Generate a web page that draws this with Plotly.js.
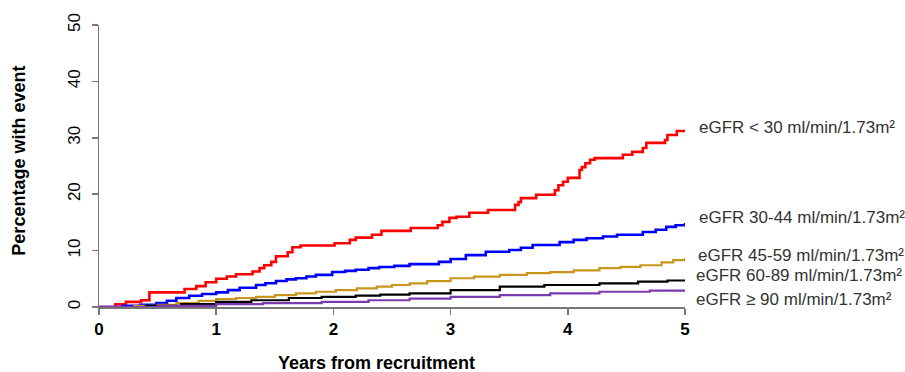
<!DOCTYPE html>
<html>
<head>
<meta charset="utf-8">
<script src="https://cdn.plot.ly/plotly-3.0.1.min.js"></script>
<style>html,body{margin:0;padding:0;background:#fff;}#chart{width:905px;height:372px;}</style>
</head>
<body>
<div id="chart"></div>
<script>
// Years from recruitment / percentage with event (step curves)
var redT = [0, 0.14, 0.23, 0.36, 0.43, 0.73, 0.83, 0.91, 1.0, 1.09, 1.17, 1.31, 1.37, 1.41, 1.47, 1.51, 1.61, 1.65, 1.72, 2.01, 2.14, 2.19, 2.33, 2.41, 2.66, 2.89, 2.93, 2.99, 3.05, 3.16, 3.32, 3.55, 3.58, 3.6, 3.73, 3.89, 3.92, 3.96, 4.0, 4.1, 4.12, 4.15, 4.19, 4.23, 4.47, 4.55, 4.64, 4.67, 4.83, 4.85, 4.93, 5.0];
var redV = [0, 0.5, 0.9, 1.2, 2.6, 3.2, 3.7, 4.4, 5.0, 5.4, 5.8, 6.3, 6.9, 7.4, 8.0, 9.0, 9.7, 10.6, 10.9, 11.3, 11.9, 12.3, 12.8, 13.5, 14.0, 14.5, 15.1, 15.8, 16.0, 16.7, 17.2, 18.1, 18.6, 19.3, 19.9, 20.7, 21.6, 22.2, 22.9, 24.3, 24.8, 25.5, 26.1, 26.4, 27.0, 27.5, 28.2, 29.1, 29.6, 30.5, 31.2, 31.4];

var blueT = [0, 0.2, 0.35, 0.49, 0.58, 0.66, 0.77, 0.88, 1.0, 1.1, 1.2, 1.34, 1.42, 1.51, 1.6, 1.68, 1.77, 1.85, 1.99, 2.1, 2.19, 2.3, 2.39, 2.52, 2.65, 2.9, 3.0, 3.13, 3.3, 3.5, 3.6, 3.7, 3.93, 4.05, 4.16, 4.3, 4.42, 4.64, 4.75, 4.84, 4.92, 5.0];
var blueV = [0, 0.2, 0.4, 0.7, 1.1, 1.6, 2.0, 2.3, 2.6, 3.0, 3.4, 3.9, 4.2, 4.6, 4.9, 5.1, 5.4, 5.7, 6.2, 6.4, 6.6, 6.9, 7.1, 7.3, 7.6, 8.0, 8.5, 9.2, 9.8, 10.1, 10.5, 11.0, 11.5, 11.9, 12.2, 12.5, 12.8, 13.3, 13.7, 14.2, 14.5, 14.9];

var goldT = [0, 0.3, 0.5, 0.66, 0.85, 1.0, 1.17, 1.34, 1.5, 1.68, 1.85, 2.02, 2.2, 2.37, 2.5, 2.65, 2.8, 3.0, 3.2, 3.42, 3.65, 3.85, 4.05, 4.27, 4.45, 4.62, 4.8, 4.9, 5.0];
var goldV = [0, 0.2, 0.4, 0.7, 1.1, 1.4, 1.6, 1.8, 2.1, 2.4, 2.7, 3.0, 3.3, 3.6, 3.9, 4.2, 4.6, 5.1, 5.4, 5.7, 6.0, 6.2, 6.5, 6.9, 7.1, 7.4, 7.9, 8.3, 8.7];

var blackT = [0, 0.4, 0.7, 1.0, 1.3, 1.62, 1.9, 2.19, 2.4, 2.65, 3.0, 3.42, 3.8, 4.27, 4.6, 4.85, 5.0];
var blackV = [0, 0.2, 0.5, 0.9, 1.2, 1.6, 1.8, 2.0, 2.2, 2.4, 3.0, 3.6, 3.9, 4.2, 4.5, 4.7, 4.8];

var purpleT = [0, 0.5, 1.0, 1.4, 1.9, 2.3, 2.65, 3.0, 3.42, 3.85, 4.27, 4.7, 5.0];
var purpleV = [0, 0.2, 0.5, 0.7, 0.9, 1.2, 1.5, 1.8, 2.1, 2.4, 2.7, 2.9, 3.0];

var groupLabels = [
  "eGFR < 30 ml/min/1.73m²",
  "eGFR 30-44 ml/min/1.73m²",
  "eGFR 45-59 ml/min/1.73m²",
  "eGFR 60-89 ml/min/1.73m²",
  "eGFR ≥ 90 ml/min/1.73m²"
];
var xTicks = [0, 1, 2, 3, 4, 5];
var yTicks = [0, 10, 20, 30, 40, 50];

var colors = ["#ff0000", "#0000ff", "#c8961c", "#000000", "#7b3aae"];
var widths = [2.6, 2.6, 2.2, 2.2, 2.2];
var series = [[redT, redV], [blueT, blueV], [goldT, goldV], [blackT, blackV], [purpleT, purpleV]];

var traces = series.map(function (s, i) {
  return {
    x: s[0], y: s[1], type: "scatter", mode: "lines", name: groupLabels[i],
    line: {color: colors[i], width: widths[i], shape: "hv"},
    hoverinfo: "skip"
  };
});

var labelY = [0.635, 0.319, 0.184, 0.113, 0.025];
var labelX = [1.021, 1.021, 1.018, 1.016, 1.016];
var annotations = groupLabels.map(function (t, i) {
  return {
    text: t, xref: "paper", yref: "paper", x: labelX[i], y: labelY[i],
    xanchor: "left", yanchor: "middle", showarrow: false,
    font: {family: "Liberation Sans, Arial, sans-serif", size: 17, color: "#333333"}
  };
});
annotations.push({
  text: "<b>Percentage with event</b>", xref: "paper", yref: "paper",
  x: -0.137, y: 0.518, textangle: -90, showarrow: false,
  xanchor: "center", yanchor: "middle",
  font: {family: "Liberation Sans, Arial, sans-serif", size: 18, color: "#000"}
});
annotations.push({
  text: "<b>Years from recruitment</b>", xref: "paper", yref: "paper",
  x: 0.473, y: -0.197, showarrow: false, xanchor: "center", yanchor: "middle",
  font: {family: "Liberation Sans, Arial, sans-serif", size: 18, color: "#000"}
});

var layout = {
  width: 905, height: 372,
  margin: {l: 99, r: 220, t: 25, b: 65, pad: 0},
  paper_bgcolor: "#fff", plot_bgcolor: "#fff",
  showlegend: false,
  font: {family: "Liberation Sans, Arial, sans-serif", color: "#000"},
  xaxis: {
    range: [0, 5], tickvals: xTicks, ticktext: xTicks.map(function (v) { return "<b>" + v + "</b>"; }),
    showgrid: false, zeroline: false, showline: true, linecolor: "#777", linewidth: 1.5,
    ticks: "outside", ticklen: 6, tickcolor: "#777", tickwidth: 1.5,
    tickfont: {size: 17, color: "#000"}, fixedrange: true
  },
  yaxis: {
    range: [0, 50], tickvals: yTicks, ticktext: yTicks.map(String), tickangle: -90,
    showgrid: false, zeroline: false, showline: true, linecolor: "#777", linewidth: 1.5,
    ticks: "outside", ticklen: 6, tickcolor: "#777", tickwidth: 1.5, ticklabelstandoff: 5,
    tickfont: {size: 17, color: "#000"}, fixedrange: true
  },
  annotations: annotations
};

Plotly.newPlot("chart", traces, layout, {displayModeBar: false, staticPlot: true});
</script>
</body>
</html>
